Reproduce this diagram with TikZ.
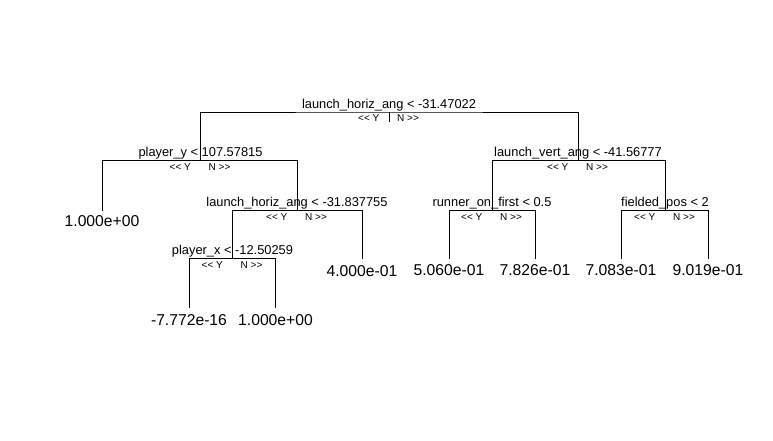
\documentclass[tikz,border=0pt]{standalone}
\usepackage{fontspec}
\setmainfont{Liberation Sans}
\begin{document}
\begin{tikzpicture}[x=1pt,y=-1pt,
  split/.style={font=\fontsize{12.85}{14}\selectfont, anchor=base, inner sep=0pt},
  leaf/.style={font=\fontsize{15.7}{18}\selectfont, anchor=base, inner sep=0pt},
  yes/.style={font=\fontsize{10}{11}\selectfont, anchor=base east, inner sep=0pt},
  no/.style={font=\fontsize{10}{11}\selectfont, anchor=base west, inner sep=0pt},
  edge/.style={line width=1pt, line cap=rect}]
\useasboundingbox (0,0) rectangle (773,440);
\fill[white] (0,0) rectangle (773,440);
% node points
\coordinate (n1) at (389,112);
\coordinate (n2) at (200.5,160.5);
\coordinate (n3) at (578,160.5);
\coordinate (n4) at (102,210.5);
\coordinate (n5) at (297,210.5);
\coordinate (n6) at (232.5,258.5);
\coordinate (n7) at (362,258.5);
\coordinate (n8) at (189,307);
\coordinate (n9) at (275.5,307);
\coordinate (n10) at (492,210.5);
\coordinate (n11) at (665,210.5);
\coordinate (n12) at (449,258);
\coordinate (n13) at (535,258);
\coordinate (n14) at (621,258);
\coordinate (n15) at (708,258);
% edges
\draw[edge] (n1) -- ++(0,9);
\draw[edge] (n2) |- (n1) -| (n3);
\draw[edge] (n4) |- (n2) -| (n5);
\draw[edge] (n6) |- (n5) -| (n7);
\draw[edge] (n8) |- (n6) -| (n9);
\draw[edge] (n10) |- (n3) -| (n11);
\draw[edge] (n12) |- (n10) -| (n13);
\draw[edge] (n14) |- (n11) -| (n15);
% split labels
\node[split] (s1) at ([yshift=4pt]n1) {launch\_horiz\_ang < -31.47022};
\node[split] (s2) at ([yshift=4pt]n2) {player\_y < 107.57815};
\node[split] (s3) at ([yshift=4pt]n3) {launch\_vert\_ang < -41.56777};
\node[split] (s5) at ([yshift=4pt]n5) {launch\_horiz\_ang < -31.837755};
\node[split] (s6) at ([yshift=4pt]n6) {player\_x < -12.50259};
\node[split] (s10) at ([yshift=4pt]n10) {runner\_on\_first < 0.5};
\node[split] (s11) at ([yshift=4pt]n11) {fielded\_pos < 2};
% Y / N labels
\foreach \n in {n1,n2,n3,n5,n6,n10,n11}{
  \node[yes] (y\n) at ([xshift=-9.5pt,yshift=-9.5pt]\n) {<{}< Y};
  \node[no] (x\n) at ([xshift=8pt,yshift=-9.5pt]\n) {N >{}>};
}
% leaves
\node[leaf] (l4) at ([yshift=-15.5pt]n4) {1.000e+00};
\node[leaf] (l7) at ([yshift=-18pt]n7) {4.000e-01};
\node[leaf] (l8) at ([yshift=-18pt]n8) {-7.772e-16};
\node[leaf] (l9) at ([yshift=-18pt]n9) {1.000e+00};
\node[leaf] (l12) at ([yshift=-17.5pt]n12) {5.060e-01};
\node[leaf] (l13) at ([yshift=-17.5pt]n13) {7.826e-01};
\node[leaf] (l14) at ([yshift=-17.5pt]n14) {7.083e-01};
\node[leaf] (l15) at ([yshift=-17.5pt]n15) {9.019e-01};
\end{tikzpicture}
\end{document}
